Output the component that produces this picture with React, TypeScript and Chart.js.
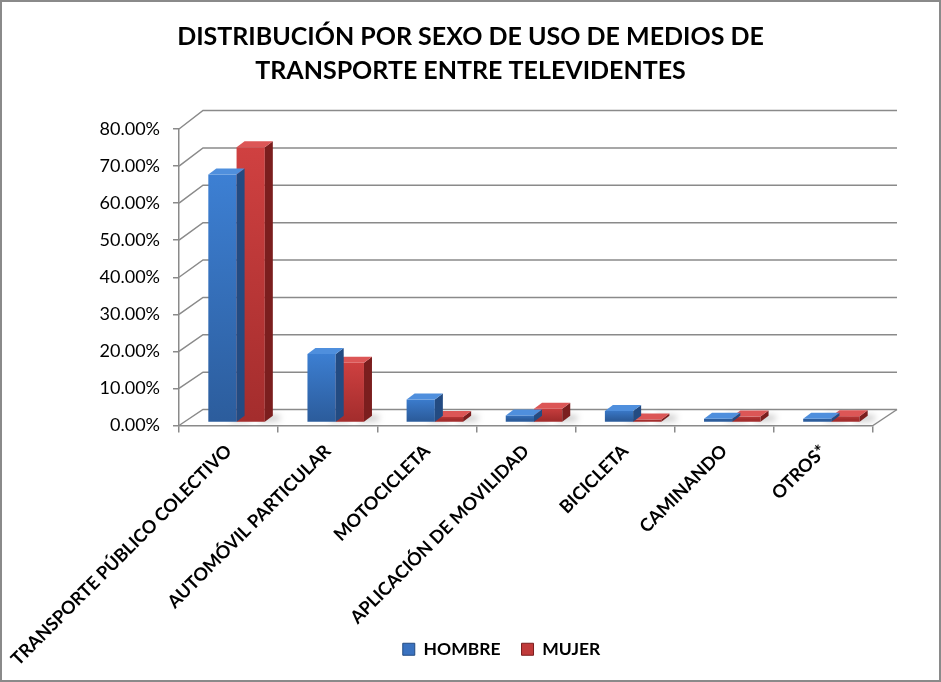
import { useEffect, useRef } from 'react'
import Chart from 'chart.js/auto'

// Distribución por sexo — barras "3D" al estilo Excel (pared trasera, suelo, caras superior/lateral)

const CATEGORIES = [
  'TRANSPORTE PÚBLICO COLECTIVO',
  'AUTOMÓVIL PARTICULAR',
  'MOTOCICLETA',
  'APLICACIÓN DE MOVILIDAD',
  'BICICLETA',
  'CAMINANDO',
  'OTROS*',
]
const HOMBRE = [66.9, 18.5, 6.2, 1.9, 3.1, 1.0, 1.0]
const MUJER  = [74.3, 16.1, 1.5, 3.7, 0.8, 1.6, 1.7]
const SERIES = ['HOMBRE', 'MUJER']
const TITLE  = ['DISTRIBUCIÓN POR SEXO DE USO DE MEDIOS DE', 'TRANSPORTE ENTRE TELEVIDENTES']
const Y_MIN = 0, Y_MAX = 80, Y_STEP = 10

const FONT = 'Lato, "Open Sans", sans-serif'
const AXIS = '#8a8a8a'

const BLUE = { hi: '#3d80d4', lo: '#2c5d9d', top: '#4f8fdd', side: '#234b82', box: '#3a72c0' }
const RED  = { hi: '#d04141', lo: '#a42d2d', top: '#dc5656', side: '#7b1e1e', box: '#c03a3a' }
const COLS = [BLUE, RED]

// profundidad de la pared (px) y de las barras
const WALL_DX = 24, WALL_DY0 = -16, WALL_DY1 = -18.5
const BAR_SHIFT_X = 8, BAR_SHIFT_Y = -3
const BAR_DX = 8, BAR_DY = -6

const barGradient = (c: any, col: typeof BLUE) => {
  const chart = c.chart
  const y = chart.scales?.y
  if (!y || c.raw == null) return col.hi
  const top = y.getPixelForValue(c.raw) + BAR_SHIFT_Y
  const bot = y.getPixelForValue(0) + BAR_SHIFT_Y
  const g = chart.ctx.createLinearGradient(0, top, 0, bot + 0.01)
  g.addColorStop(0, col.hi)
  g.addColorStop(1, col.lo)
  return g
}

export default function App() {
  const canvasRef = useRef<HTMLCanvasElement>(null)
  const chartRef  = useRef<Chart | null>(null)

  useEffect(() => {
    if (!canvasRef.current) return
    chartRef.current?.destroy()

    const backY = (y: any, v: number) =>
      y.getPixelForValue(v) + WALL_DY0 + (WALL_DY1 - WALL_DY0) * (v - Y_MIN) / (Y_MAX - Y_MIN)

    // pared trasera + pared izquierda + suelo + sombras
    const wallPlugin = {
      id: 'wall3d',
      beforeDatasetsDraw(c: any) {
        const { ctx, chartArea: a, scales: { y } } = c
        ctx.save()
        ctx.strokeStyle = AXIS; ctx.lineWidth = 1.5
        for (let v = Y_MIN; v <= Y_MAX; v += Y_STEP) {
          const fy = y.getPixelForValue(v), by = backY(y, v)
          ctx.beginPath()
          ctx.moveTo(a.left, fy); ctx.lineTo(a.left + WALL_DX, by); ctx.lineTo(a.right + WALL_DX, by)
          ctx.stroke()
        }
        ctx.beginPath()
        ctx.moveTo(a.right, y.getPixelForValue(0)); ctx.lineTo(a.right + WALL_DX, backY(y, 0))
        ctx.stroke()

        // sombras suaves en el suelo
        ctx.filter = 'blur(3px)'
        ctx.fillStyle = 'rgba(0,0,0,0.22)'
        for (let d = 0; d < 2; d++) {
          c.getDatasetMeta(d).data.forEach((bar: any) => {
            const r = bar.x + bar.width / 2 + BAR_SHIFT_X
            const b = bar.base + BAR_SHIFT_Y
            ctx.beginPath()
            ctx.moveTo(r - 6, b); ctx.lineTo(r + 14, b - 1); ctx.lineTo(r + 16, b - 6); ctx.lineTo(r - 4, b - 7)
            ctx.closePath(); ctx.fill()
          })
        }
        ctx.filter = 'none'
        ctx.restore()

        // las barras se dibujan en el plano medio del fondo
        ctx.save()
        ctx.translate(BAR_SHIFT_X, BAR_SHIFT_Y)
      },
      afterDatasetsDraw(c: any) {
        c.ctx.restore()
      },
    }

    // caras superior y lateral de cada barra
    const facesPlugin = {
      id: 'faces3d',
      afterDatasetDraw(c: any, args: any) {
        const { ctx } = c
        const col = COLS[args.index]
        ctx.save()
        args.meta.data.forEach((bar: any) => {
          const { x, y, base, width } = bar.getProps(['x', 'y', 'base', 'width'], true)
          const l = x - width / 2, r = x + width / 2
          ctx.fillStyle = col.side
          ctx.beginPath()
          ctx.moveTo(r, y); ctx.lineTo(r + BAR_DX, y + BAR_DY); ctx.lineTo(r + BAR_DX, base + BAR_DY); ctx.lineTo(r, base)
          ctx.closePath(); ctx.fill()
          ctx.fillStyle = col.top
          ctx.beginPath()
          ctx.moveTo(l, y); ctx.lineTo(l + BAR_DX, y + BAR_DY); ctx.lineTo(r + BAR_DX, y + BAR_DY); ctx.lineTo(r, y)
          ctx.closePath(); ctx.fill()
        })
        ctx.restore()
      },
    }

    // leyenda un poco a la derecha del centro; etiquetas del eje X sin recorte inferior
    const layoutFix = {
      id: 'layoutFix',
      afterLayout(c: any) {
        if (c.legend) { c.legend.left += 31; c.legend.right += 31 }
        const x = c.scales.x
        if (x) { x.bottom = c.height; x.height = x.bottom - x.top }
      },
    }

    chartRef.current = new Chart(canvasRef.current, {
      type: 'bar',
      data: {
        labels: CATEGORIES,
        datasets: [
          {
            label: SERIES[0], data: HOMBRE, borderWidth: 0, clip: false as any,
            backgroundColor: (c: any) => barGradient(c, BLUE),
            categoryPercentage: 0.57, barPercentage: 1,
          },
          {
            label: SERIES[1], data: MUJER, borderWidth: 0, clip: false as any,
            backgroundColor: (c: any) => barGradient(c, RED),
            categoryPercentage: 0.57, barPercentage: 1,
          },
        ],
      },
      options: {
        responsive: false, animation: false,
        layout: { padding: { left: 0, right: 0, top: 0, bottom: 12 } },
        plugins: {
          tooltip: { enabled: false },
          title: {
            display: true, text: TITLE, color: '#000',
            font: { family: FONT, size: 25, weight: 'bold', lineHeight: 34 / 25 },
            padding: { top: 18, bottom: 41 },
          },
          legend: {
            position: 'bottom',
            labels: {
              boxWidth: 12, boxHeight: 12, padding: 21, color: '#000',
              font: { family: FONT, size: 17.5, weight: 'bold' },
              generateLabels: () => SERIES.map((s, i) => ({
                text: s, fillStyle: COLS[i].box, strokeStyle: COLS[i].side, lineWidth: 1,
                datasetIndex: i, hidden: false,
              })),
            },
          },
        },
        scales: {
          x: {
            grid: { display: true, drawOnChartArea: false, drawTicks: true, tickLength: 7, color: AXIS, lineWidth: 1.5, offset: true },
            border: { display: true, color: AXIS, width: 1.5 },
            ticks: {
              color: '#000', font: { family: FONT, size: 18, weight: 'bold' },
              minRotation: 45, maxRotation: 45, autoSkip: false, padding: 8,
            },
            afterFit: (s: any) => { s.height = 194; s.paddingLeft = 0; s.paddingRight = 0 },
          },
          y: {
            min: Y_MIN, max: Y_MAX,
            ticks: {
              stepSize: Y_STEP, color: '#000', font: { family: FONT, size: 18 }, padding: 13,
              callback: (v: any) => `${Number(v).toFixed(2)}%`,
            },
            grid: { drawOnChartArea: false, drawTicks: true, tickLength: 6, color: AXIS, lineWidth: 1.5 },
            border: { display: true, color: AXIS, width: 1.5 },
            afterFit: (s: any) => { s.width = 177 },
          },
          // eje vacío a la derecha: deja sitio para la profundidad de la pared
          yRight: {
            position: 'right', min: Y_MIN, max: Y_MAX,
            grid: { display: false }, border: { display: false }, ticks: { display: false },
            afterFit: (s: any) => { s.width = 66 },
          },
        },
      },
      plugins: [wallPlugin, facesPlugin, layoutFix],
    })

    return () => { chartRef.current?.destroy(); chartRef.current = null }
  }, [])

  return (
    <>
      <style>{'body{margin:0}'}</style>
      <div style={{ width: 941, height: 682, boxSizing: 'border-box', border: '2px solid #8a8a8a', background: '#fff' }}>
        <canvas ref={canvasRef} width={937} height={678} style={{ display: 'block', width: 937, height: 678 }} />
      </div>
    </>
  )
}
